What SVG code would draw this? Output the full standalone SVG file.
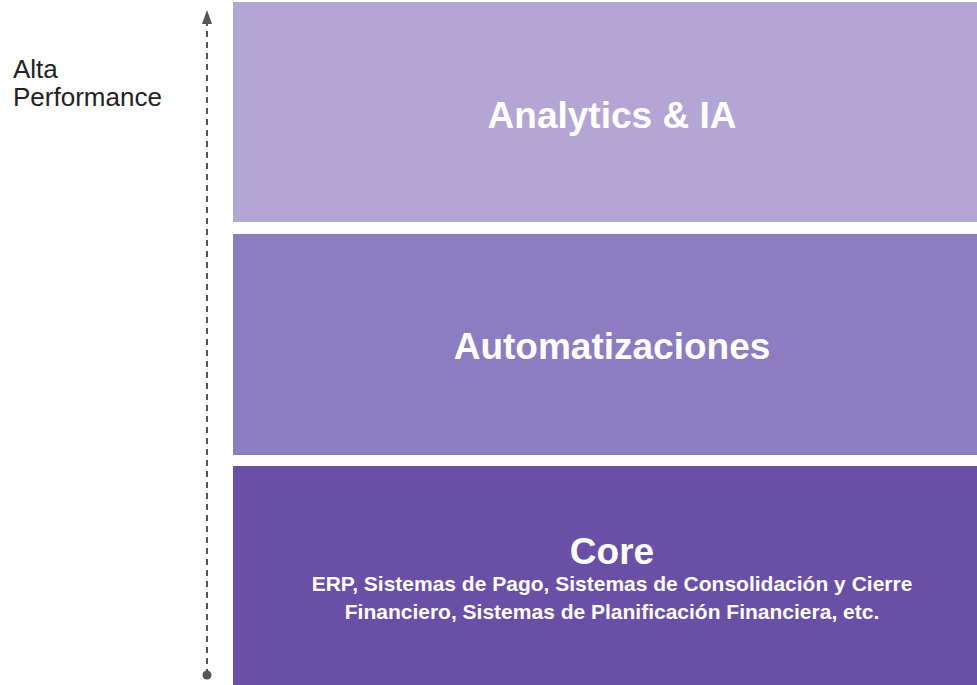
<svg xmlns="http://www.w3.org/2000/svg" width="977" height="685" viewBox="0 0 977 685">
<style>
.title{font-family:"Liberation Sans",Arial,sans-serif;font-weight:bold;font-size:37px;fill:#fff;text-anchor:middle}
.sub{font-family:"Liberation Sans",Arial,sans-serif;font-weight:bold;font-size:21px;fill:#fff;text-anchor:middle}
.lbl{font-family:"Liberation Sans",Arial,sans-serif;font-size:26px;fill:#222}
</style>
<rect width="977" height="685" fill="#fff"/>
<g id="axis">
<line x1="207" y1="675" x2="207" y2="16" stroke="#555" stroke-width="2" stroke-dasharray="6,5"/>
<path d="M202,24 L207,10 L212,24 Z" fill="#555"/>
<circle cx="207" cy="675" r="4.5" fill="#555"/>
</g>
<g id="label-alta">
<text class="lbl" x="13" y="78">Alta</text>
<text class="lbl" x="13" y="106">Performance</text>
</g>
<g id="analytics">
<rect x="233" y="2" width="744" height="220" fill="#b3a6d4"/>
<text class="title" x="612" y="128">Analytics &amp; IA</text>
</g>
<g id="automatizaciones">
<rect x="233" y="234" width="744" height="221" fill="#8c7cc0"/>
<text class="title" x="612" y="359">Automatizaciones</text>
</g>
<g id="core">
<rect x="233" y="466" width="744" height="219" fill="#6a4fa6"/>
<text class="title" x="612" y="564">Core</text>
<text class="sub" x="612" y="591">ERP, Sistemas de Pago, Sistemas de Consolidación y Cierre</text>
<text class="sub" x="612" y="619">Financiero, Sistemas de Planificación Financiera, etc.</text>
</g>
</svg>
